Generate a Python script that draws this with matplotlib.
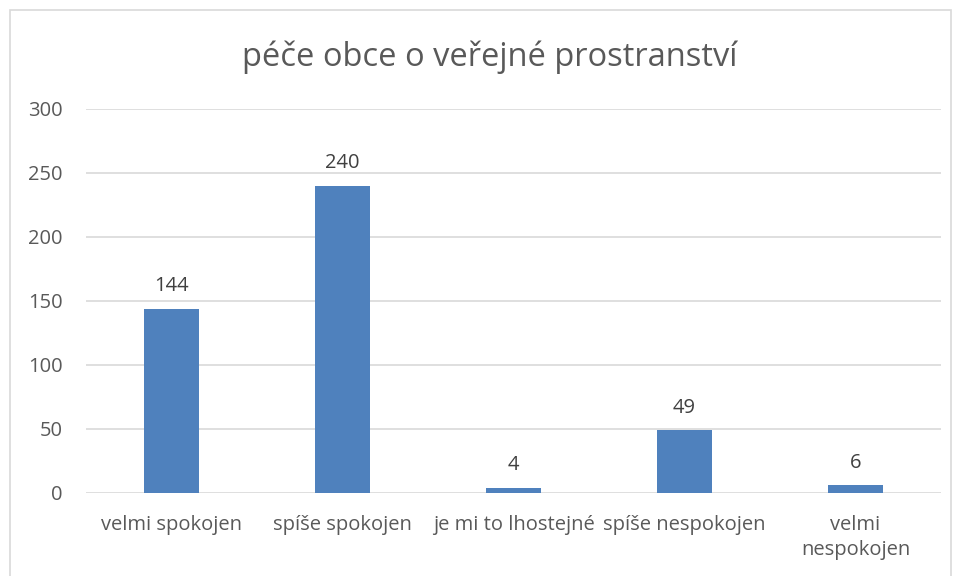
import matplotlib
matplotlib.use("Agg")
import matplotlib.pyplot as plt
from matplotlib.patches import Rectangle

categories = ["velmi spokojen", "spíše spokojen", "je mi to lhostejné", "spíše nespokojen", "velmi\nnespokojen"]
values = [144, 240, 4, 49, 6]
yticks = [0, 50, 100, 150, 200, 250, 300]
title = "péče obce o veřejné prostranství"

plt.rcParams['font.family'] = ['Open Sans', 'DejaVu Sans']
W, H = 959, 576
fig = plt.figure(figsize=(W/100, H/100), dpi=100)
ax = fig.add_axes([86/W, 1-493/H, (941-86)/W, (493-109)/H])

grey = "#595959"
fs = 14.5
x = list(range(len(categories)))
ax.bar(x, values, width=0.316, color="#4f81bd", zorder=3)
for xi, v in zip(x, values):
    ax.annotate(str(v), (xi, v), xytext=(0, 9), textcoords="offset points",
                ha="center", va="bottom", fontsize=fs, color="#404040")

ax.set_xlim(-0.5, len(categories)-0.5)
ax.set_ylim(0, 300)
ax.set_yticks(yticks)
ax.set_yticklabels([str(t) for t in yticks], fontsize=fs, color=grey)
ax.set_xticks(x)
ax.set_xticklabels(categories, fontsize=fs, color=grey, linespacing=1.34)
ax.tick_params(axis="both", length=0)
ax.tick_params(axis="y", pad=17)
ax.tick_params(axis="x", pad=16)
ax.grid(axis="y", color="#d9d9d9", linewidth=1.2, zorder=0)
for s in ax.spines.values():
    s.set_visible(False)

fig.text(490/W, 1-57/H, title, ha="center", va="center", fontsize=23.5, color=grey)

fig.patches.append(Rectangle((10/W, -0.05), (951-10)/W, 1.05-10/H, transform=fig.transFigure,
                             fill=False, edgecolor="#d9d9d9", linewidth=1.2))

fig.savefig("out.png", dpi=100)
